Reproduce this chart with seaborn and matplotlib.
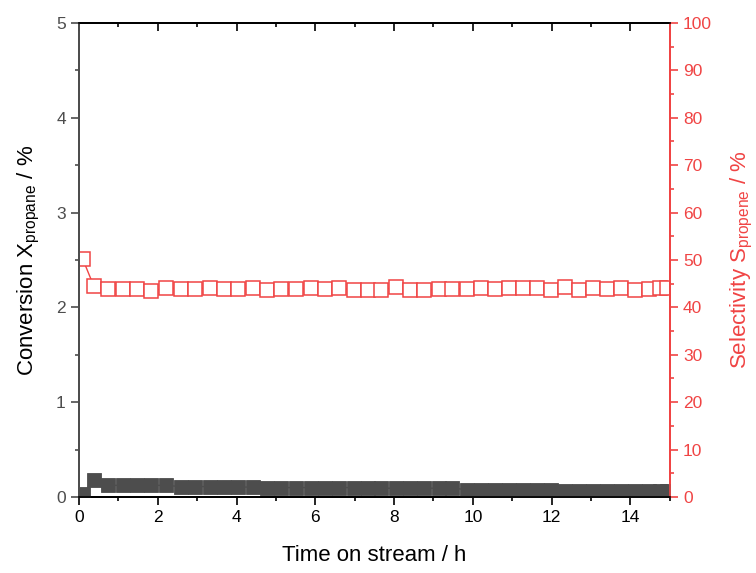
import pandas as pd
import matplotlib
matplotlib.use("Agg")
import matplotlib.pyplot as plt
import seaborn as sns
from matplotlib.ticker import MultipleLocator

# -----------------------------------
# Data
# -----------------------------------
time_h = [0.09, 0.37, 0.74, 1.11, 1.48, 1.84, 2.21, 2.58, 2.94, 3.32,
          3.68, 4.04, 4.42, 4.78, 5.14, 5.51, 5.88, 6.25, 6.61, 6.98,
          7.33, 7.68, 8.05, 8.41, 8.76, 9.13, 9.48, 9.84, 10.20, 10.56,
          10.91, 11.27, 11.62, 11.98, 12.33, 12.69, 13.05, 13.40, 13.76, 14.11,
          14.46, 14.75, 14.92]

conversion = [0.03, 0.175, 0.123, 0.123, 0.123, 0.123, 0.123, 0.11, 0.11, 0.11,
              0.11, 0.105, 0.105, 0.10, 0.10, 0.10, 0.10, 0.10, 0.10, 0.10,
              0.093, 0.093, 0.093, 0.093, 0.093, 0.093, 0.093, 0.078, 0.078, 0.078,
              0.078, 0.078, 0.078, 0.078, 0.066, 0.066, 0.066, 0.066, 0.066, 0.066,
              0.066, 0.066, 0.066]

selectivity = [50.3, 44.6, 43.9, 43.9, 43.9, 43.5, 44.1, 43.9, 43.9, 44.1,
               43.9, 43.9, 44.1, 43.7, 43.9, 43.9, 44.0, 43.9, 44.0, 43.7,
               43.7, 43.7, 44.3, 43.6, 43.7, 43.8, 43.9, 43.9, 44.1, 43.9,
               44.0, 44.1, 44.1, 43.6, 44.3, 43.7, 44.1, 43.9, 44.1, 43.7,
               43.9, 44.1, 44.1]

df = pd.DataFrame({"Time": time_h, "Conversion": conversion, "Selectivity": selectivity})

GREY = "#4d4d4d"
RED = "#f04444"

sns.set_style("ticks")
plt.rcParams["font.family"] = ["Liberation Sans", "DejaVu Sans"]
plt.rcParams["mathtext.fontset"] = "custom"
plt.rcParams["mathtext.rm"] = "Liberation Sans"
plt.rcParams["mathtext.it"] = "Liberation Sans"
plt.rcParams["text.color"] = "black"
plt.rcParams["axes.labelcolor"] = "black"

fig, ax = plt.subplots(figsize=(7.56, 5.73), dpi=100)
fig.subplots_adjust(left=0.1045, right=0.886, bottom=0.1326, top=0.96)
ax2 = ax.twinx()
ax_top = ax.twiny()

# conversion (left axis)
sns.lineplot(data=df, x="Time", y="Conversion", ax=ax, color=GREY, lw=1,
             marker="s", markersize=10.6, markerfacecolor=GREY,
             markeredgecolor=GREY, markeredgewidth=0.6)

# selectivity (right axis)
sns.lineplot(data=df, x="Time", y="Selectivity", ax=ax2, color=RED, lw=1,
             marker="s", markersize=10.1, markerfacecolor="white",
             markeredgecolor=RED, markeredgewidth=1.1)

ax.set_xlim(0, 15)
ax_top.set_xlim(0, 15)
ax.set_ylim(0, 5)
ax2.set_ylim(0, 100)

for a in (ax, ax_top):
    a.xaxis.set_major_locator(MultipleLocator(2))
    a.xaxis.set_minor_locator(MultipleLocator(1))
ax.yaxis.set_major_locator(MultipleLocator(1))
ax.yaxis.set_minor_locator(MultipleLocator(0.5))
ax2.yaxis.set_major_locator(MultipleLocator(10))
ax2.yaxis.set_minor_locator(MultipleLocator(5))

# axis styling
ax.tick_params(axis="x", which="major", length=6, width=1.2, colors="black",
               labelsize=12.5, direction="out")
ax.tick_params(axis="x", which="minor", length=3, width=1.2, colors="black")
ax_top.tick_params(axis="x", which="major", length=6, width=1.2, colors="black",
                   direction="in", labeltop=False)
ax_top.tick_params(axis="x", which="minor", length=3, width=1.2, colors="black",
                   direction="in")
ax.tick_params(axis="y", which="major", length=6, width=1.2, colors=GREY,
               labelcolor=GREY, labelsize=12.5)
ax.tick_params(axis="y", which="minor", length=3, width=1.2, colors=GREY)
ax2.tick_params(axis="y", which="major", length=6, width=1.2, colors=RED,
                labelcolor=RED, labelsize=12.5)
ax2.tick_params(axis="y", which="minor", length=3, width=1.2, colors=RED)

for a in (ax, ax2, ax_top):
    a.spines["bottom"].set_color("black")
    a.spines["top"].set_color("black")
    a.spines["left"].set_color(GREY)
    a.spines["right"].set_color(RED)
    for s in a.spines.values():
        s.set_linewidth(1.2)

ax.set_xlabel("Time on stream / h", fontsize=16, labelpad=14, color="black")
ax.set_ylabel(r"Conversion X$_{\mathrm{propane}}$ / %", fontsize=16, labelpad=10, color="black")
ax2.set_ylabel(r"Selectivity S$_{\mathrm{propene}}$ / %", fontsize=16, labelpad=12, color=RED)

ax.set_zorder(ax2.get_zorder() + 1)
ax.patch.set_visible(False)

fig.savefig("out.png", dpi=100)
